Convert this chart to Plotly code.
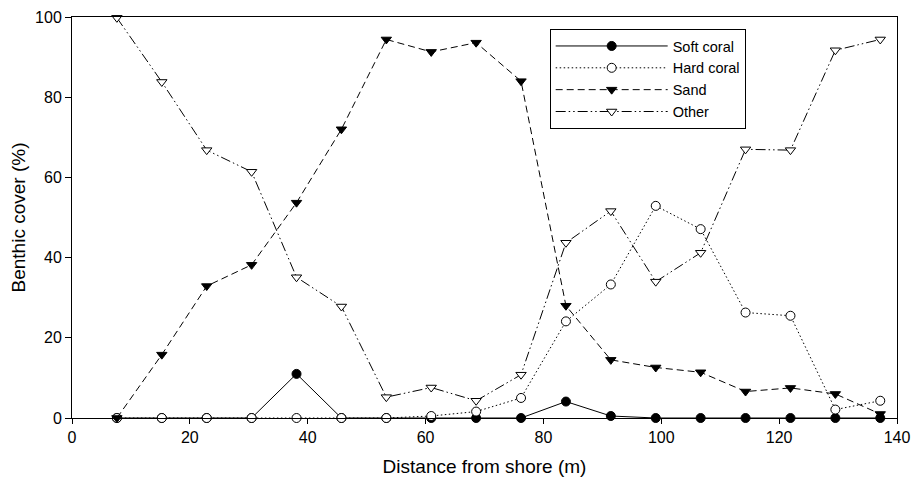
import plotly.graph_objects as go

distance = [7.62, 15.24, 22.86, 30.48, 38.10, 45.72, 53.34, 60.96, 68.58,
            76.20, 83.82, 91.44, 99.06, 106.68, 114.30, 121.92, 129.54, 137.16]
soft_coral = [0, 0, 0, 0, 11.0, 0, 0, 0, 0, 0, 4.1, 0.5, 0, 0, 0, 0, 0, 0]
hard_coral = [0, 0, 0, 0, 0, 0, 0, 0.5, 1.6, 5.0, 24.1, 33.3, 52.9, 47.1, 26.3, 25.5, 2.1, 4.3]
sand = [0, 15.8, 32.9, 38.2, 53.7, 72.0, 94.4, 91.3, 93.6, 84.0, 28.0, 14.5, 12.6, 11.4, 6.6, 7.5, 6.0, 1.0]
other = [99.8, 83.8, 66.8, 61.4, 35.1, 27.8, 5.2, 7.6, 4.3, 10.8, 43.7, 51.6, 34.0, 41.2, 67.0, 66.8, 91.7, 94.4]

x_ticks = [0, 20, 40, 60, 80, 100, 120, 140]
y_ticks = [0, 20, 40, 60, 80, 100]

FONT = "Liberation Sans, Arial, sans-serif"

series = [
    ("Soft coral", soft_coral, "solid", "circle", "black"),
    ("Hard coral", hard_coral, "1.5px,2.5px", "circle", "white"),
    ("Sand", sand, "7px,4px", "triangle-down", "black"),
    ("Other", other, "10px,3px,1.5px,3px,1.5px,3px", "triangle-down", "white"),
]

fig = go.Figure()
for name, vals, dash, sym, fill in series:
    fig.add_trace(go.Scatter(
        x=distance, y=vals, name=name, mode="lines+markers",
        line=dict(color="black", width=1, dash=dash),
        marker=dict(symbol=sym, size=9, color=fill, line=dict(color="black", width=1)),
        cliponaxis=False,
    ))

fig.update_layout(
    width=913, height=481,
    margin=dict(l=72, r=16, t=17, b=63, autoexpand=False),
    plot_bgcolor="white", paper_bgcolor="white",
    font=dict(family=FONT, size=16, color="black"),
    showlegend=True,
    legend=dict(
        x=0.579, y=0.97, xanchor="left", yanchor="top",
        bordercolor="black", borderwidth=1, bgcolor="white",
        font=dict(family=FONT, size=14.5),
        itemwidth=112, tracegroupgap=0,
    ),
    xaxis=dict(
        range=[0, 140], tickvals=x_ticks, ticktext=[str(v) for v in x_ticks],
        showgrid=False, zeroline=False, automargin=False,
        showline=True, linecolor="black", linewidth=1, mirror=True,
        ticks="outside", ticklen=5, tickcolor="black",
        tickfont=dict(size=16),
        title=dict(text="Distance from shore (m)", font=dict(size=19), standoff=14),
    ),
    yaxis=dict(
        range=[0, 100], tickvals=y_ticks, ticktext=[str(v) for v in y_ticks],
        showgrid=False, zeroline=False, automargin=False,
        showline=True, linecolor="black", linewidth=1, mirror=True,
        ticks="outside", ticklen=6, tickcolor="black",
        tickfont=dict(size=16),
        title=dict(text="Benthic cover (%)", font=dict(size=19), standoff=4),
    ),
)

fig.write_html(
    "out.html",
    config={"displayModeBar": False},
    post_script="document.body.style.margin='0';document.body.style.overflow='hidden';",
)
